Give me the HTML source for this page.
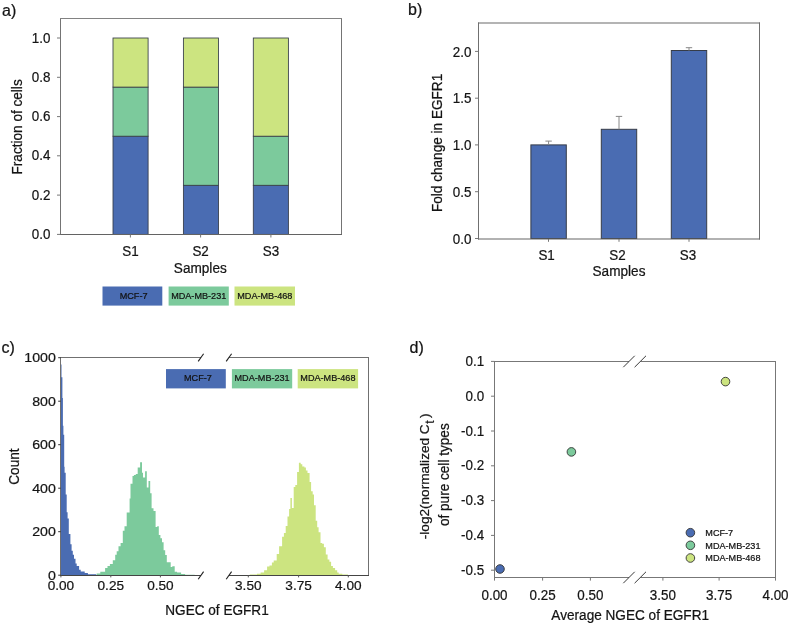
<!DOCTYPE html>
<html><head><meta charset="utf-8"><style>
html,body{margin:0;padding:0;background:#fff;width:790px;height:627px;overflow:hidden}
svg{display:block;filter:blur(0.4px)}
text{font-family:"Liberation Sans",sans-serif;stroke:#141414;stroke-width:0.22px}
</style></head><body>
<svg width="790" height="627" viewBox="0 0 790 627" font-family="Liberation Sans, sans-serif">
<rect width="790" height="627" fill="#fff"/>
<text x="2" y="15.5" font-size="16" text-anchor="start" fill="#141414" >a)</text>
<rect x="113.0" y="136.2" width="35.1" height="98.2" fill="#4a6cb2" stroke="#363c48" stroke-width="0.85"/>
<rect x="113.0" y="87.1" width="35.1" height="49.1" fill="#7cca9c" stroke="#363c48" stroke-width="0.85"/>
<rect x="113.0" y="38.0" width="35.1" height="49.1" fill="#cce480" stroke="#363c48" stroke-width="0.85"/>
<rect x="183.4" y="185.3" width="35.1" height="49.1" fill="#4a6cb2" stroke="#363c48" stroke-width="0.85"/>
<rect x="183.4" y="87.1" width="35.1" height="98.2" fill="#7cca9c" stroke="#363c48" stroke-width="0.85"/>
<rect x="183.4" y="38.0" width="35.1" height="49.1" fill="#cce480" stroke="#363c48" stroke-width="0.85"/>
<rect x="253.3" y="185.3" width="35.1" height="49.1" fill="#4a6cb2" stroke="#363c48" stroke-width="0.85"/>
<rect x="253.3" y="136.2" width="35.1" height="49.1" fill="#7cca9c" stroke="#363c48" stroke-width="0.85"/>
<rect x="253.3" y="38.0" width="35.1" height="98.2" fill="#cce480" stroke="#363c48" stroke-width="0.85"/>
<line x1="60.5" y1="18" x2="60.5" y2="235" stroke="#747474" stroke-width="1" />
<line x1="341.5" y1="18" x2="341.5" y2="235" stroke="#747474" stroke-width="1" />
<line x1="60" y1="18.5" x2="342" y2="18.5" stroke="#828282" stroke-width="1" />
<line x1="60" y1="234.5" x2="342" y2="234.5" stroke="#636363" stroke-width="1" />
<line x1="57" y1="234.4" x2="60.5" y2="234.4" stroke="#777777" stroke-width="1" />
<text transform="translate(50.5 239.0) scale(0.965 1)" font-size="13.9" text-anchor="end" fill="#141414">0.0</text>
<line x1="57" y1="195.1" x2="60.5" y2="195.1" stroke="#777777" stroke-width="1" />
<text transform="translate(50.5 199.7) scale(0.965 1)" font-size="13.9" text-anchor="end" fill="#141414">0.2</text>
<line x1="57" y1="155.8" x2="60.5" y2="155.8" stroke="#777777" stroke-width="1" />
<text transform="translate(50.5 160.4) scale(0.965 1)" font-size="13.9" text-anchor="end" fill="#141414">0.4</text>
<line x1="57" y1="116.6" x2="60.5" y2="116.6" stroke="#777777" stroke-width="1" />
<text transform="translate(50.5 121.2) scale(0.965 1)" font-size="13.9" text-anchor="end" fill="#141414">0.6</text>
<line x1="57" y1="77.3" x2="60.5" y2="77.3" stroke="#777777" stroke-width="1" />
<text transform="translate(50.5 81.9) scale(0.965 1)" font-size="13.9" text-anchor="end" fill="#141414">0.8</text>
<line x1="57" y1="38.0" x2="60.5" y2="38.0" stroke="#777777" stroke-width="1" />
<text transform="translate(50.5 42.6) scale(0.965 1)" font-size="13.9" text-anchor="end" fill="#141414">1.0</text>
<line x1="130.4" y1="234.5" x2="130.4" y2="237.5" stroke="#777777" stroke-width="1" />
<text transform="translate(130.4 256.2) scale(0.965 1)" font-size="13.9" text-anchor="middle" fill="#141414">S1</text>
<line x1="200.6" y1="234.5" x2="200.6" y2="237.5" stroke="#777777" stroke-width="1" />
<text transform="translate(200.6 256.2) scale(0.965 1)" font-size="13.9" text-anchor="middle" fill="#141414">S2</text>
<line x1="270.9" y1="234.5" x2="270.9" y2="237.5" stroke="#777777" stroke-width="1" />
<text transform="translate(270.9 256.2) scale(0.965 1)" font-size="13.9" text-anchor="middle" fill="#141414">S3</text>
<text transform="translate(200.3 273.3) scale(1 1.07)" font-size="13.6" text-anchor="middle" fill="#141414">Samples</text>
<text transform="translate(22.3 126.9) rotate(-90) scale(1 1.07)" font-size="13.6" text-anchor="middle" fill="#141414">Fraction of cells</text>
<rect x="102.5" y="286.5" width="59.80000000000001" height="19.1" fill="#4a6cb2" stroke="none" stroke-width="1"/>
<text transform="translate(133.6 299.0) scale(0.98 1.06)" font-size="9.3" text-anchor="middle" fill="#111" stroke="#111" stroke-width="0.15">MCF-7</text>
<rect x="168.6" y="286.5" width="60.20000000000002" height="19.1" fill="#7cca9c" stroke="none" stroke-width="1"/>
<text transform="translate(198.7 299.0) scale(0.98 1.06)" font-size="9.3" text-anchor="middle" fill="#111" stroke="#111" stroke-width="0.15">MDA-MB-231</text>
<rect x="234.5" y="286.5" width="60.5" height="19.1" fill="#cce480" stroke="none" stroke-width="1"/>
<text transform="translate(264.8 299.0) scale(0.98 1.06)" font-size="9.3" text-anchor="middle" fill="#111" stroke="#111" stroke-width="0.15">MDA-MB-468</text>
<text x="408" y="15" font-size="16" text-anchor="start" fill="#141414" >b)</text>
<rect x="530.9" y="144.9" width="35.4" height="93.6" fill="#4a6cb2" stroke="#363c48" stroke-width="1"/>
<line x1="548.6" y1="141.1" x2="548.6" y2="144.9" stroke="#888" stroke-width="1" />
<line x1="545.4" y1="141.1" x2="551.8000000000001" y2="141.1" stroke="#888" stroke-width="1" />
<rect x="601.3" y="129.3" width="35.4" height="109.2" fill="#4a6cb2" stroke="#363c48" stroke-width="1"/>
<line x1="619.0" y1="116.4" x2="619.0" y2="129.3" stroke="#888" stroke-width="1" />
<line x1="615.8" y1="116.4" x2="622.2" y2="116.4" stroke="#888" stroke-width="1" />
<rect x="671.3" y="50.5" width="35.4" height="188.0" fill="#4a6cb2" stroke="#363c48" stroke-width="1"/>
<line x1="689.0" y1="47.7" x2="689.0" y2="50.5" stroke="#888" stroke-width="1" />
<line x1="685.8" y1="47.7" x2="692.2" y2="47.7" stroke="#888" stroke-width="1" />
<line x1="478.5" y1="22.5" x2="478.5" y2="239.5" stroke="#707070" stroke-width="1" />
<line x1="759.5" y1="22.5" x2="759.5" y2="239.5" stroke="#707070" stroke-width="1" />
<line x1="478" y1="23" x2="760" y2="23" stroke="#6a6a6a" stroke-width="1.15" />
<line x1="478" y1="239" x2="760" y2="239" stroke="#666" stroke-width="1.1" />
<line x1="475" y1="238.5" x2="478.5" y2="238.5" stroke="#777777" stroke-width="1" />
<text transform="translate(471.5 243.7) scale(0.965 1)" font-size="13.9" text-anchor="end" fill="#141414">0.0</text>
<line x1="475" y1="191.7" x2="478.5" y2="191.7" stroke="#777777" stroke-width="1" />
<text transform="translate(471.5 196.9) scale(0.965 1)" font-size="13.9" text-anchor="end" fill="#141414">0.5</text>
<line x1="475" y1="144.9" x2="478.5" y2="144.9" stroke="#777777" stroke-width="1" />
<text transform="translate(471.5 150.1) scale(0.965 1)" font-size="13.9" text-anchor="end" fill="#141414">1.0</text>
<line x1="475" y1="98.2" x2="478.5" y2="98.2" stroke="#777777" stroke-width="1" />
<text transform="translate(471.5 103.4) scale(0.965 1)" font-size="13.9" text-anchor="end" fill="#141414">1.5</text>
<line x1="475" y1="51.4" x2="478.5" y2="51.4" stroke="#777777" stroke-width="1" />
<text transform="translate(471.5 56.6) scale(0.965 1)" font-size="13.9" text-anchor="end" fill="#141414">2.0</text>
<line x1="548.5" y1="239" x2="548.5" y2="241.8" stroke="#777777" stroke-width="1" />
<text transform="translate(546.6 259.6) scale(0.965 1)" font-size="13.9" text-anchor="middle" fill="#141414">S1</text>
<line x1="619.0" y1="239" x2="619.0" y2="241.8" stroke="#777777" stroke-width="1" />
<text transform="translate(617.4 259.6) scale(0.965 1)" font-size="13.9" text-anchor="middle" fill="#141414">S2</text>
<line x1="689.0" y1="239" x2="689.0" y2="241.8" stroke="#777777" stroke-width="1" />
<text transform="translate(687.9 259.6) scale(0.965 1)" font-size="13.9" text-anchor="middle" fill="#141414">S3</text>
<text transform="translate(619 275.9) scale(1 1.07)" font-size="13.6" text-anchor="middle" fill="#141414">Samples</text>
<text transform="translate(442.0 142.9) rotate(-90) scale(1 1.07)" font-size="13.6" text-anchor="middle" fill="#141414">Fold change in EGFR1</text>
<text x="1.5" y="352.5" font-size="16" text-anchor="start" fill="#141414" >c)</text>
<path d="M60.70,575.0L60.70,364.60L61.50,364.60L61.50,377.30L62.40,377.30L62.40,398.00L62.90,398.00L62.90,425.80L63.40,425.80L63.40,434.70L64.20,434.70L64.20,466.80L64.60,466.80L64.60,472.70L65.70,472.70L65.70,494.40L66.70,494.40L66.70,512.30L67.60,512.30L67.60,518.60L68.80,518.60L68.80,534.00L70.40,534.00L70.40,544.30L71.60,544.30L71.60,550.70L72.80,550.70L72.80,554.70L74.00,554.70L74.00,558.70L75.50,558.70L75.50,563.50L76.70,563.50L76.70,565.90L79.10,565.90L79.10,569.80L80.70,569.80L80.70,571.40L84.70,571.40L84.70,573.00L87.90,573.00L87.90,574.20L96.30,574.20L96.30,575.0Z" fill="#4a6cb2"/>
<path d="M96.70,575.0L96.70,573.40L100.30,573.40L100.30,571.70L105.10,571.70L105.10,567.90L107.50,567.90L107.50,566.00L109.90,566.00L109.90,564.00L112.80,564.00L112.80,560.20L115.20,560.20L115.20,554.70L116.70,554.70L116.70,551.30L118.50,551.30L118.50,546.30L120.60,546.30L120.60,543.00L122.80,543.00L122.80,530.70L124.50,530.70L124.50,526.20L126.70,526.20L126.70,512.50L129.60,512.50L129.60,498.60L130.50,498.60L130.50,483.70L132.50,483.70L132.50,476.00L133.90,476.00L133.90,475.00L135.80,475.00L135.80,474.00L137.70,474.00L137.70,467.50L140.10,467.50L140.10,462.20L142.00,462.20L142.00,472.70L143.00,472.70L143.00,477.50L145.10,477.50L145.10,471.30L146.80,471.30L146.80,487.60L148.50,487.60L148.50,480.90L150.20,480.90L150.20,493.30L151.60,493.30L151.60,508.20L153.50,508.20L153.50,511.10L155.60,511.10L155.60,527.10L157.20,527.10L157.20,526.30L158.80,526.30L158.80,535.00L160.40,535.00L160.40,538.20L162.00,538.20L162.00,542.20L163.60,542.20L163.60,550.20L165.20,550.20L165.20,555.00L166.80,555.00L166.80,562.20L170.70,562.20L170.70,567.00L172.30,567.00L172.30,566.20L174.70,566.20L174.70,571.70L177.10,571.70L177.10,572.50L181.10,572.50L181.10,574.10L185.10,574.10L185.10,574.80L194.70,574.80L194.70,575.0Z" fill="#7cca9c"/>
<path d="M249.80,575.0L249.80,574.40L257.00,574.40L257.00,573.80L260.60,573.80L260.60,572.60L264.10,572.60L264.10,570.20L267.10,570.20L267.10,566.60L269.50,566.60L269.50,565.40L271.90,565.40L271.90,562.40L273.70,562.40L273.70,560.60L276.70,560.60L276.70,554.00L279.10,554.00L279.10,546.30L282.10,546.30L282.10,536.70L283.90,536.70L283.90,533.10L285.70,533.10L285.70,525.90L287.50,525.90L287.50,516.50L289.10,516.50L289.10,508.90L290.40,508.90L290.40,498.00L291.90,498.00L291.90,507.90L293.70,507.90L293.70,487.10L295.30,487.10L295.30,485.10L297.10,485.10L297.10,472.10L298.90,472.10L298.90,462.80L300.70,462.80L300.70,464.30L302.30,464.30L302.30,466.40L304.40,466.40L304.40,467.40L305.90,467.40L305.90,470.60L307.50,470.60L307.50,473.10L309.60,473.10L309.60,482.00L311.10,482.00L311.10,491.30L312.70,491.30L312.70,494.40L314.00,494.40L314.00,505.20L315.70,505.20L315.70,520.80L317.20,520.80L317.20,527.30L318.60,527.30L318.60,532.30L320.50,532.30L320.50,543.00L322.20,543.00L322.20,543.70L323.90,543.70L323.90,547.30L325.80,547.30L325.80,554.50L327.60,554.50L327.60,559.50L329.40,559.50L329.40,561.70L331.10,561.70L331.10,566.00L332.90,566.00L332.90,568.10L335.10,568.10L335.10,570.30L337.20,570.30L337.20,572.40L338.70,572.40L338.70,573.80L342.30,573.80L342.30,574.60L348.00,574.60L348.00,575.0Z" fill="#cce480"/>
<line x1="60.5" y1="357" x2="60.5" y2="576" stroke="#707070" stroke-width="1" />
<line x1="368.5" y1="357" x2="368.5" y2="576" stroke="#707070" stroke-width="1" />
<line x1="60" y1="357.5" x2="201" y2="357.5" stroke="#707070" stroke-width="1" />
<line x1="228.9" y1="357.5" x2="369" y2="357.5" stroke="#707070" stroke-width="1" />
<line x1="60" y1="575.5" x2="201" y2="575.5" stroke="#444" stroke-width="1" />
<line x1="228.9" y1="575.5" x2="369" y2="575.5" stroke="#444" stroke-width="1" />
<line x1="198.20000000000002" y1="361.40000000000003" x2="203.6" y2="353.8" stroke="#222" stroke-width="1.1" />
<line x1="198.20000000000002" y1="579.1999999999999" x2="203.6" y2="571.6" stroke="#222" stroke-width="1.1" />
<line x1="226.20000000000002" y1="361.40000000000003" x2="231.6" y2="353.8" stroke="#222" stroke-width="1.1" />
<line x1="226.20000000000002" y1="579.1999999999999" x2="231.6" y2="571.6" stroke="#222" stroke-width="1.1" />
<line x1="58.2" y1="575.2" x2="60.7" y2="575.2" stroke="#333" stroke-width="1" />
<text x="55.8" y="579.8" font-size="13" text-anchor="end" fill="#141414" textLength="7.88" lengthAdjust="spacingAndGlyphs">0</text>
<line x1="58.2" y1="531.7" x2="60.7" y2="531.7" stroke="#333" stroke-width="1" />
<text x="55.8" y="536.3" font-size="13" text-anchor="end" fill="#141414" textLength="23.64" lengthAdjust="spacingAndGlyphs">200</text>
<line x1="58.2" y1="488.2" x2="60.7" y2="488.2" stroke="#333" stroke-width="1" />
<text x="55.8" y="492.8" font-size="13" text-anchor="end" fill="#141414" textLength="23.64" lengthAdjust="spacingAndGlyphs">400</text>
<line x1="58.2" y1="444.7" x2="60.7" y2="444.7" stroke="#333" stroke-width="1" />
<text x="55.8" y="449.3" font-size="13" text-anchor="end" fill="#141414" textLength="23.64" lengthAdjust="spacingAndGlyphs">600</text>
<line x1="58.2" y1="401.2" x2="60.7" y2="401.2" stroke="#333" stroke-width="1" />
<text x="55.8" y="405.8" font-size="13" text-anchor="end" fill="#141414" textLength="23.64" lengthAdjust="spacingAndGlyphs">800</text>
<line x1="58.2" y1="357.7" x2="60.7" y2="357.7" stroke="#333" stroke-width="1" />
<text x="55.8" y="362.3" font-size="13" text-anchor="end" fill="#141414" textLength="31.52" lengthAdjust="spacingAndGlyphs">1000</text>
<line x1="60.9" y1="575.2" x2="60.9" y2="577.4" stroke="#555" stroke-width="1" />
<text x="60.9" y="589.8" font-size="13" text-anchor="middle" fill="#141414" textLength="26.5" lengthAdjust="spacingAndGlyphs">0.00</text>
<line x1="110.8" y1="575.2" x2="110.8" y2="577.4" stroke="#555" stroke-width="1" />
<text x="110.8" y="589.8" font-size="13" text-anchor="middle" fill="#141414" textLength="26.5" lengthAdjust="spacingAndGlyphs">0.25</text>
<line x1="160.4" y1="575.2" x2="160.4" y2="577.4" stroke="#555" stroke-width="1" />
<text x="160.4" y="589.8" font-size="13" text-anchor="middle" fill="#141414" textLength="26.5" lengthAdjust="spacingAndGlyphs">0.50</text>
<line x1="248.3" y1="575.2" x2="248.3" y2="577.4" stroke="#555" stroke-width="1" />
<text x="248.3" y="589.8" font-size="13" text-anchor="middle" fill="#141414" textLength="26.5" lengthAdjust="spacingAndGlyphs">3.50</text>
<line x1="298.6" y1="575.2" x2="298.6" y2="577.4" stroke="#555" stroke-width="1" />
<text x="298.6" y="589.8" font-size="13" text-anchor="middle" fill="#141414" textLength="26.5" lengthAdjust="spacingAndGlyphs">3.75</text>
<line x1="348.3" y1="575.2" x2="348.3" y2="577.4" stroke="#555" stroke-width="1" />
<text x="348.3" y="589.8" font-size="13" text-anchor="middle" fill="#141414" textLength="26.5" lengthAdjust="spacingAndGlyphs">4.00</text>
<text transform="translate(217 615.3) scale(1 1.07)" font-size="13.6" text-anchor="middle" fill="#141414">NGEC of EGFR1</text>
<text transform="translate(19.2 466.6) rotate(-90) scale(1 1.07)" font-size="13.6" text-anchor="middle" fill="#141414">Count</text>
<rect x="166" y="369.1" width="59.80000000000001" height="19.3" fill="#4a6cb2" stroke="none" stroke-width="1"/>
<text transform="translate(197.9 381.4) scale(0.98 1.06)" font-size="9.3" text-anchor="middle" fill="#111" stroke="#111" stroke-width="0.15">MCF-7</text>
<rect x="231.9" y="369.1" width="60.29999999999998" height="19.3" fill="#7cca9c" stroke="none" stroke-width="1"/>
<text transform="translate(262.1 381.4) scale(0.98 1.06)" font-size="9.3" text-anchor="middle" fill="#111" stroke="#111" stroke-width="0.15">MDA-MB-231</text>
<rect x="297.7" y="369.1" width="60.400000000000034" height="19.3" fill="#cce480" stroke="none" stroke-width="1"/>
<text transform="translate(327.9 381.4) scale(0.98 1.06)" font-size="9.3" text-anchor="middle" fill="#111" stroke="#111" stroke-width="0.15">MDA-MB-468</text>
<text x="409.5" y="352.5" font-size="16" text-anchor="start" fill="#141414" >d)</text>
<line x1="494.5" y1="361.5" x2="494.5" y2="577.5" stroke="#777777" stroke-width="1" />
<line x1="775.5" y1="361.5" x2="775.5" y2="577.5" stroke="#777777" stroke-width="1" />
<line x1="494" y1="361.5" x2="629" y2="361.5" stroke="#777777" stroke-width="1" />
<line x1="640.5" y1="361.5" x2="776" y2="361.5" stroke="#777777" stroke-width="1" />
<line x1="494" y1="577.5" x2="629" y2="577.5" stroke="#777777" stroke-width="1" />
<line x1="640.5" y1="577.5" x2="776" y2="577.5" stroke="#777777" stroke-width="1" />
<line x1="623.3" y1="367.2" x2="634.7" y2="355.8" stroke="#3a3a3a" stroke-width="1.0" />
<line x1="623.3" y1="583.2" x2="634.7" y2="571.8" stroke="#3a3a3a" stroke-width="1.0" />
<line x1="634.5999999999999" y1="367.2" x2="646.0" y2="355.8" stroke="#3a3a3a" stroke-width="1.0" />
<line x1="634.5999999999999" y1="583.2" x2="646.0" y2="571.8" stroke="#3a3a3a" stroke-width="1.0" />
<line x1="491" y1="361.4" x2="494.5" y2="361.4" stroke="#777777" stroke-width="1" />
<text transform="translate(484.2 366.0) scale(0.965 1)" font-size="13.9" text-anchor="end" fill="#141414">0.1</text>
<line x1="491" y1="396.2" x2="494.5" y2="396.2" stroke="#777777" stroke-width="1" />
<text transform="translate(484.2 400.8) scale(0.965 1)" font-size="13.9" text-anchor="end" fill="#141414">0.0</text>
<line x1="491" y1="431.0" x2="494.5" y2="431.0" stroke="#777777" stroke-width="1" />
<text transform="translate(484.2 435.6) scale(0.965 1)" font-size="13.9" text-anchor="end" fill="#141414">-0.1</text>
<line x1="491" y1="465.8" x2="494.5" y2="465.8" stroke="#777777" stroke-width="1" />
<text transform="translate(484.2 470.4) scale(0.965 1)" font-size="13.9" text-anchor="end" fill="#141414">-0.2</text>
<line x1="491" y1="500.6" x2="494.5" y2="500.6" stroke="#777777" stroke-width="1" />
<text transform="translate(484.2 505.2) scale(0.965 1)" font-size="13.9" text-anchor="end" fill="#141414">-0.3</text>
<line x1="491" y1="535.4" x2="494.5" y2="535.4" stroke="#777777" stroke-width="1" />
<text transform="translate(484.2 540.0) scale(0.965 1)" font-size="13.9" text-anchor="end" fill="#141414">-0.4</text>
<line x1="491" y1="570.2" x2="494.5" y2="570.2" stroke="#777777" stroke-width="1" />
<text transform="translate(484.2 574.8) scale(0.965 1)" font-size="13.9" text-anchor="end" fill="#141414">-0.5</text>
<line x1="494.5" y1="577.5" x2="494.5" y2="580.6" stroke="#777777" stroke-width="1" />
<text transform="translate(494.5 599.6) scale(0.965 1)" font-size="13.9" text-anchor="middle" fill="#141414">0.00</text>
<line x1="542.6" y1="577.5" x2="542.6" y2="580.6" stroke="#777777" stroke-width="1" />
<text transform="translate(542.6 599.6) scale(0.965 1)" font-size="13.9" text-anchor="middle" fill="#141414">0.25</text>
<line x1="590.4" y1="577.5" x2="590.4" y2="580.6" stroke="#777777" stroke-width="1" />
<text transform="translate(590.4 599.6) scale(0.965 1)" font-size="13.9" text-anchor="middle" fill="#141414">0.50</text>
<line x1="662.9" y1="577.5" x2="662.9" y2="580.6" stroke="#777777" stroke-width="1" />
<text transform="translate(662.9 599.6) scale(0.965 1)" font-size="13.9" text-anchor="middle" fill="#141414">3.50</text>
<line x1="719.1" y1="577.5" x2="719.1" y2="580.6" stroke="#777777" stroke-width="1" />
<text transform="translate(719.1 599.6) scale(0.965 1)" font-size="13.9" text-anchor="middle" fill="#141414">3.75</text>
<line x1="775.5" y1="577.5" x2="775.5" y2="580.6" stroke="#777777" stroke-width="1" />
<text transform="translate(775.5 599.6) scale(0.965 1)" font-size="13.9" text-anchor="middle" fill="#141414">4.00</text>
<text transform="translate(630.2 620.0) scale(1 1.07)" font-size="13.6" text-anchor="middle" fill="#141414">Average NGEC of EGFR1</text>
<text x="0" y="0" font-size="13.6" text-anchor="start" fill="#141414" transform="translate(429.2 539.2) rotate(-90)">-log2(normalized C<tspan font-size="12" dx="0.5" dy="5">t</tspan><tspan dx="2.4" dy="-5">)</tspan></text>
<text transform="translate(449.2 474.7) rotate(-90) scale(1 1.05)" font-size="13.6" text-anchor="middle" fill="#141414">of pure cell types</text>
<circle cx="500" cy="569" r="4.3" fill="#4a6cb2" stroke="#333" stroke-width="0.9"/>
<circle cx="571.4" cy="451.9" r="4.3" fill="#7cca9c" stroke="#333" stroke-width="0.9"/>
<circle cx="725.5" cy="381.6" r="4.3" fill="#cce480" stroke="#333" stroke-width="0.9"/>
<circle cx="690.4" cy="532.7" r="4.3" fill="#4a6cb2" stroke="#333" stroke-width="0.9"/>
<text transform="translate(705.3 536.1) scale(0.98 1.06)" font-size="9.3" text-anchor="start" fill="#111" stroke="#111" stroke-width="0.15">MCF-7</text>
<circle cx="690.4" cy="545.3" r="4.3" fill="#7cca9c" stroke="#333" stroke-width="0.9"/>
<text transform="translate(705.3 548.7) scale(0.98 1.06)" font-size="9.3" text-anchor="start" fill="#111" stroke="#111" stroke-width="0.15">MDA-MB-231</text>
<circle cx="690.4" cy="558" r="4.3" fill="#cce480" stroke="#333" stroke-width="0.9"/>
<text transform="translate(705.3 561.4) scale(0.98 1.06)" font-size="9.3" text-anchor="start" fill="#111" stroke="#111" stroke-width="0.15">MDA-MB-468</text>
</svg></body></html>
